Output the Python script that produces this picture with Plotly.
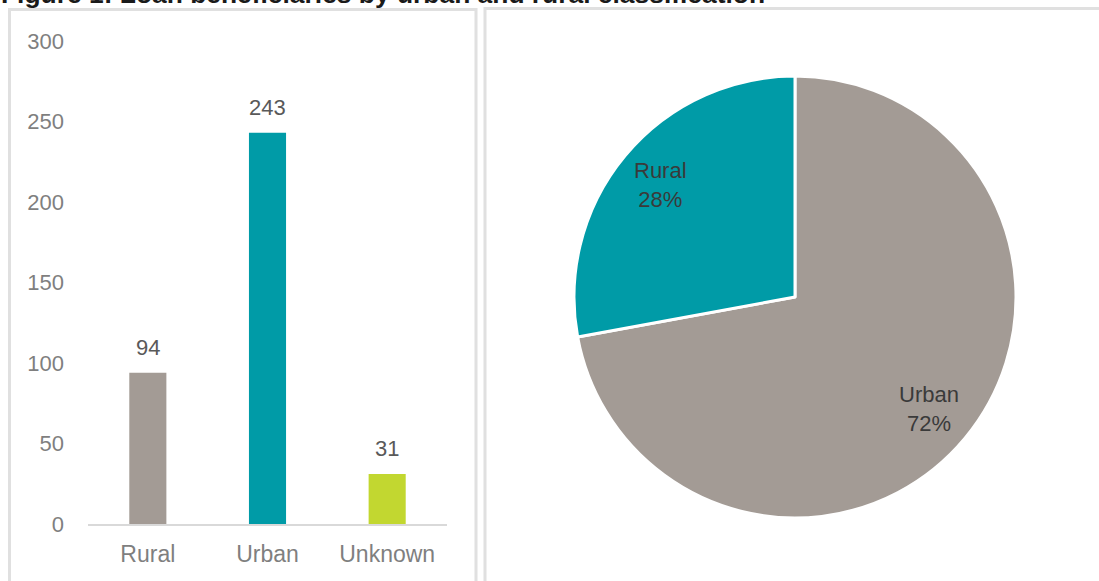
import math
import plotly.graph_objects as go

# Loan beneficiaries by location type
categories = ["Rural", "Urban", "Unknown"]
beneficiaries = [94, 243, 31]
bar_colors = ["#a39b95", "#009ba7", "#c2d730"]

# Pie shows only classified beneficiaries (Urban first, clockwise from 12 o'clock)
pie_labels = ["Urban", "Rural"]
pie_values = [243, 94]
pie_colors = ["#a39b95", "#009ba7"]

y_ticks = [0, 50, 100, 150, 200, 250, 300]

W, H = 1099, 581
FONT = "Liberation Sans, Arial, sans-serif"


def px_x(p):
    return p / W


def px_y(p):
    return 1 - p / H


fig = go.Figure()

fig.add_trace(go.Bar(
    x=categories,
    y=beneficiaries,
    marker=dict(color=bar_colors, line=dict(width=0)),
    width=0.31,
    xaxis="x",
    yaxis="y",
    showlegend=False,
    hoverinfo="x+y",
))

# value labels above the bars
for cat, val in zip(categories, beneficiaries):
    fig.add_annotation(
        x=cat, y=val, xref="x", yref="y",
        text=str(val), showarrow=False,
        yanchor="bottom", yshift=11,
        font=dict(family=FONT, size=22, color="#595959"),
    )

# pie geometry (pixels)
PIE_CX, PIE_CY, PIE_R = 795, 297, 221

fig.add_trace(go.Pie(
    labels=pie_labels,
    values=pie_values,
    sort=False,
    direction="clockwise",
    rotation=0,
    marker=dict(colors=pie_colors, line=dict(color="#ffffff", width=3)),
    textinfo="none",
    domain=dict(x=[px_x(PIE_CX - PIE_R), px_x(PIE_CX + PIE_R)],
                y=[px_y(PIE_CY + PIE_R), px_y(PIE_CY - PIE_R)]),
    showlegend=False,
    hoverinfo="label+value+percent",
))

# slice labels placed along each slice's bisector, at 0.79 of the radius
total = sum(pie_values)
start = 0.0
for lab, val in zip(pie_labels, pie_values):
    frac = val / total
    mid = (start + frac / 2) * 2 * math.pi  # clockwise from 12 o'clock
    lx = PIE_CX + 0.79 * PIE_R * math.sin(mid)
    ly = PIE_CY - 0.79 * PIE_R * math.cos(mid)
    fig.add_annotation(
        x=px_x(lx), y=px_y(ly), xref="paper", yref="paper",
        text=f"{lab}<br>{frac:.0%}", showarrow=False,
        xanchor="center", yanchor="middle",
        font=dict(family=FONT, size=22, color="#3a3a3a"),
    )
    start += frac

fig.update_layout(
    width=W, height=H,
    margin=dict(l=0, r=0, t=0, b=0, autoexpand=False),
    paper_bgcolor="#ffffff",
    plot_bgcolor="#ffffff",
    font=dict(family=FONT, color="#7f7f7f"),
    xaxis=dict(
        domain=[px_x(88), px_x(447)],
        automargin=False,
        showgrid=False, zeroline=False,
        showline=True, linecolor="#d9d9d9", linewidth=2,
        ticks="", ticklabelstandoff=8,
        tickfont=dict(family=FONT, size=23, color="#7f7f7f"),
        fixedrange=True,
    ),
    yaxis=dict(
        domain=[px_y(524), px_y(41)],
        automargin=False,
        range=[0, 300],
        tickvals=y_ticks,
        showgrid=False, zeroline=False, showline=False,
        ticks="", ticklabelstandoff=23,
        tickfont=dict(family=FONT, size=22, color="#7f7f7f"),
        fixedrange=True,
    ),
    shapes=[
        dict(type="rect", xref="paper", yref="paper",
             x0=px_x(9.5), x1=px_x(476), y0=px_y(600), y1=px_y(9.5),
             line=dict(color="#e0e0e0", width=3), layer="below"),
        dict(type="rect", xref="paper", yref="paper",
             x0=px_x(485), x1=px_x(1120), y0=px_y(600), y1=px_y(8.5),
             line=dict(color="#e0e0e0", width=3), layer="below"),
    ],
)

fig.add_annotation(
    text="<b>Figure 1: Loan beneficiaries by urban and rural classification</b>",
    xref="paper", yref="paper",
    x=px_x(-1), y=px_y(11.5),
    xanchor="left", yanchor="bottom",
    showarrow=False,
    font=dict(family=FONT, size=26.4, color="#1a1a1a"),
)

fig.write_html("out.html")
